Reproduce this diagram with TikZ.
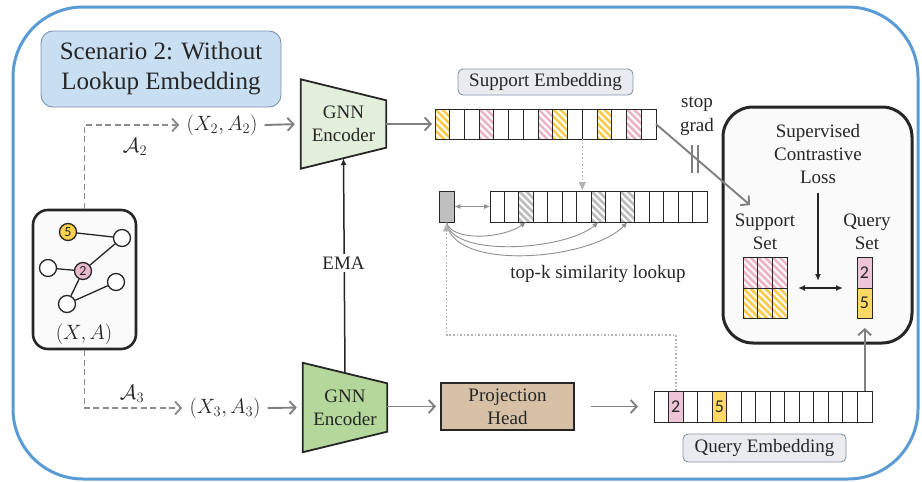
\documentclass[tikz,border=0pt]{standalone}
\usepackage{fontspec}
\setmainfont{Liberation Serif}
\newfontfamily\numfont{Carlito}
\usetikzlibrary{arrows.meta,calc}
\definecolor{ink}{HTML}{262626}
\definecolor{bluefr}{HTML}{5B9BD5}
\definecolor{titlefill}{HTML}{C8DEF1}
\definecolor{titledraw}{HTML}{7F93AA}
\definecolor{labfill}{HTML}{E9EBEF}
\definecolor{labdraw}{HTML}{8495AD}
\definecolor{enclight}{HTML}{E2EFDA}
\definecolor{encdark}{HTML}{B4D89B}
\definecolor{projfill}{HTML}{D6C1A6}
\definecolor{boxbg}{HTML}{FAFAFA}
\definecolor{arrgray}{HTML}{808080}
\definecolor{dgray}{HTML}{8C8C8C}
\definecolor{lgray}{HTML}{B3B3B3}
\definecolor{cgray}{HTML}{8F8F8F}
\definecolor{hy}{HTML}{F8CD4C}
\definecolor{hp}{HTML}{EAB4C9}
\definecolor{hg}{HTML}{BDBDBD}
\definecolor{cellpink}{HTML}{EEC5D7}
\definecolor{cellyel}{HTML}{FFD966}
\definecolor{nodeyel}{HTML}{FBD24E}
\definecolor{nodepink}{HTML}{E9B9CC}
\definecolor{lookbox}{HTML}{BFBFBF}
\newcommand{\hatchcell}[5]{%
  \begin{scope}
    \clip ({#1},{#2}) rectangle ({#1+#3},{#2+#4});
    \foreach \k in {-42,-35,...,21}{\draw[#5, line width=2.6pt] ({#1+\k},{#2}) -- ++(46,46);}
  \end{scope}}
\tikzset{
  txt/.style={font=\fontsize{19}{23}\selectfont, text=ink},
  cellb/.style={draw=ink, line width=0.9pt, minimum height=30pt, inner sep=0pt, outer sep=0pt},
  garrow/.style={draw=arrgray, line width=1.9pt, -{Straight Barb[length=6pt,width=13pt]}},
  dashline/.style={draw=dgray, line width=1.9pt, dash pattern=on 6pt off 3.5pt, -{Straight Barb[length=6pt,width=13pt]}},
  dotline/.style={draw=lgray, line width=1.6pt, dash pattern=on 1.6pt off 2pt, -{Latex[length=9pt,width=8pt]}},
  thinarr/.style={draw=cgray, line width=0.9pt, -{Latex[length=6pt,width=5pt]}},
  blkarr/.style={draw=ink, line width=1.5pt, -{Latex[length=7pt,width=6pt]}},
  gnode/.style={circle, draw=ink, line width=1.3pt, minimum size=17pt, inner sep=0pt, font=\numfont\fontsize{14}{14}\selectfont, text=ink},
  labbox/.style={txt, draw=labdraw, line width=0.9pt, fill=labfill, rounded corners=5pt, inner sep=0pt},
  mtxt/.style={font=\fontsize{20}{23}\selectfont, text=ink},
}
\begin{document}
\begin{tikzpicture}[x=1pt,y=-1pt]
\useasboundingbox (0,0) rectangle (922,482);
% outer frame
\draw[bluefr, line width=3pt, rounded corners=70pt] (13,7) rectangle (918,479);

% title
\node[draw=titledraw, line width=0.9pt, fill=titlefill, rounded corners=12pt, minimum width=240pt, minimum height=76pt, align=center, text=ink, font=\fontsize{25}{30}\selectfont] (title) at (161,69) {Scenario 2: Without\\Lookup Embedding};

% graph box
\node[draw=ink, line width=2.6pt, fill=boxbg, rounded corners=15pt, minimum width=103pt, minimum height=139pt] (gb) at (84.5,279.5) {};
\node[gnode, fill=nodeyel] (n5) at (68,232) {5};
\node[gnode, fill=white] (ntr) at (122,238) {};
\node[gnode, fill=white] (nl) at (48,268) {};
\node[gnode, fill=nodepink] (n2) at (83,271) {2};
\node[gnode, fill=white] (nrm) at (116,282) {};
\node[gnode, fill=white] (nb) at (67,304) {};
\draw[ink, line width=1.3pt] (n5) -- (ntr) (ntr) -- (n2) (nl) -- (n2) (n2) -- (nb) (nb) -- (nrm);
\node[mtxt] (xa) at (84,334) {$(X,A)$};

% augmented views
\node[mtxt, inner sep=7pt] (x2) at (222,125) {$(X_2,A_2)$};
\node[mtxt, inner sep=7pt] (x3) at (225,408) {$(X_3,A_3)$};
\draw[dashline] (gb.north) |- (x2.west);
\draw[dashline] (gb.south) |- (x3.west);
\node[mtxt] (a2) at (135,147) {$\mathcal{A}_2$};
\node[mtxt] (a3) at (132,394) {$\mathcal{A}_3$};

% encoders
\node[minimum width=85pt, minimum height=89pt, inner sep=0pt] (enc1) at (343.5,124) {};
\draw[ink, line width=1.8pt, fill=enclight] (enc1.north west) -- ($(enc1.north east)+(0,21)$) -- ($(enc1.south east)+(0,-21)$) -- (enc1.south west) -- cycle;
\node[txt, align=center] (enc1t) at (enc1) {GNN\\Encoder};
\node[minimum width=84pt, minimum height=89pt, inner sep=0pt] (enc2) at (345,407.5) {};
\draw[ink, line width=1.8pt, fill=encdark] (enc2.north west) -- ($(enc2.north east)+(0,20.5)$) -- ($(enc2.south east)+(0,-20.5)$) -- (enc2.south west) -- cycle;
\node[txt, align=center] (enc2t) at (enc2) {GNN\\Encoder};

\draw[garrow, shorten >=6pt] (x2.east) -- (enc1.west);
\draw[garrow, shorten >=6pt] (x3.east) -- (enc2.west);

% EMA
\coordinate (emaS) at ($(enc2.north)+(0,10.5)$);
\coordinate (emaE) at ($(enc1.south)+(0,-10.5)$);
\draw[blkarr] (emaS) -- (emaE);
\node[txt, fill=white, inner sep=3pt] (ema) at (343.5,263) {EMA};

% support embedding
\foreach \i/\c in {1/hy,4/hp,8/hp,9/hy,12/hy,14/hp}{\hatchcell{435+(\i-1)*14.73}{109}{14.73}{30}{\c}}
\foreach \i in {1,...,15}{\node[cellb, minimum width=14.73pt] (s\i) at ({435+(\i-0.5)*14.73},124) {};}
\node[labbox, minimum width=175pt, minimum height=26pt] (slab) at (545.5,82) {Support Embedding};
\draw[garrow, shorten >=3pt] (enc1.east) -- (s1.west);

% lookup row
\node[draw=ink, line width=0.9pt, fill=lookbox, minimum width=15pt, minimum height=31pt, inner sep=0pt] (lb) at (446.5,206.5) {};
\foreach \i in {3,8,10}{\hatchcell{490+(\i-1)*14.47}{191}{14.47}{31}{hg}}
\foreach \i in {1,...,15}{\node[cellb, minimum width=14.47pt, minimum height=31pt] (l\i) at ({490+(\i-0.5)*14.47},206.5) {};}
\draw[draw=cgray, line width=0.9pt, {Latex[length=6pt,width=5pt]}-{Latex[length=6pt,width=5pt]}] (lb.east) -- (l1.west);
\draw[dotline] (s10.south east) -- (s10.south east |- l7.north);
\draw[thinarr] (lb.south) .. controls +(6,20) and +(-22,16) .. (l3.south);
\draw[thinarr] (lb.south) .. controls +(6,36) and +(-32,28) .. (l8.south);
\draw[thinarr] (lb.south) .. controls +(6,50) and +(-36,38) .. (l10.south);
\node[txt] (topk) at (598,274) {top-k similarity lookup};

% projection head
\node[txt, draw=ink, line width=2pt, fill=projfill, minimum width=133pt, minimum height=47pt, align=center, inner sep=0pt] (proj) at (507.5,406.5) {Projection\\Head};
\draw[garrow, shorten >=4pt] (enc2.east |- proj.west) -- (proj.west);

% query embedding
\node[cellb, minimum width=14.53pt, minimum height=31pt, fill=cellpink] at ({654+1.5*14.53},406.5) {};
\node[cellb, minimum width=14.53pt, minimum height=31pt, fill=cellyel] at ({654+4.5*14.53},406.5) {};
\foreach \i in {1,...,15}{\node[cellb, minimum width=14.53pt, minimum height=31pt] (q\i) at ({654+(\i-0.5)*14.53},406.5) {};}
\node[font=\numfont\fontsize{18}{18}\selectfont, text=ink, inner sep=0pt] (q2t) at (q2) {2};
\node[font=\numfont\fontsize{18}{18}\selectfont, text=ink, inner sep=0pt] (q5t) at (q5) {5};
\node[labbox, minimum width=163pt, minimum height=28pt] (qlab) at (764.5,448) {Query Embedding};
\draw[garrow, shorten <=16pt, shorten >=16pt] (proj.east) -- (q1.west);
\draw[dotline] (q2.north) -- ++(0,-56) -| (lb.south);

% loss box
\node[draw=ink, line width=3pt, fill=boxbg, rounded corners=30pt, minimum width=189pt, minimum height=236pt] (loss) at (817.5,225) {};
\node[txt, align=center, inner sep=0pt] (losst) at (818,154) {Supervised\\Contrastive\\Loss};
\node[txt, align=center, inner sep=0pt] (sst) at (765,231.5) {Support\\Set};
\node[txt, align=center, inner sep=0pt] (qst) at (867,231.5) {Query\\Set};
\foreach \j in {1,2,3}{\hatchcell{743+(\j-1)*14.67}{257}{14.67}{31}{hp}\hatchcell{743+(\j-1)*14.67}{288}{14.67}{30}{hy}}
\foreach \j in {1,2,3}{
  \node[cellb, minimum width=14.67pt, minimum height=31pt] (gt\j) at ({743+(\j-0.5)*14.67},272.5) {};
  \node[cellb, minimum width=14.67pt, minimum height=30pt] (gbt\j) at ({743+(\j-0.5)*14.67},303) {};}
\node[cellb, minimum width=15pt, minimum height=31pt, fill=cellpink, font=\numfont\fontsize{18}{18}\selectfont, text=ink] (qs2) at (864.5,272.5) {2};
\node[cellb, minimum width=15pt, minimum height=30pt, fill=cellyel, font=\numfont\fontsize{18}{18}\selectfont, text=ink] (qs5) at (864.5,303) {5};
\coordinate (lossin) at (818,281);
\draw[blkarr] (818,193) -- (lossin);
\draw[draw=ink, line width=1.5pt, {Latex[length=7pt,width=6pt]}-{Latex[length=7pt,width=6pt]}] ($(gt3.south east)+(11,0)$) -- ($(qs2.south west)+(-14,0)$);
\draw[garrow] (q15.north) -- ++(0,-63);

% stop grad
\coordinate (sgtip) at (750,205);
\draw[garrow] (s15.east) -- (sgtip);
\draw[draw=arrgray, line width=1.4pt] (692,145) -- (692,173) (698,145) -- (698,173);
\node[txt, align=center, inner sep=0pt, font=\fontsize{19}{24}\selectfont] (sg) at (697,116) {stop\\grad};
\end{tikzpicture}
\end{document}
